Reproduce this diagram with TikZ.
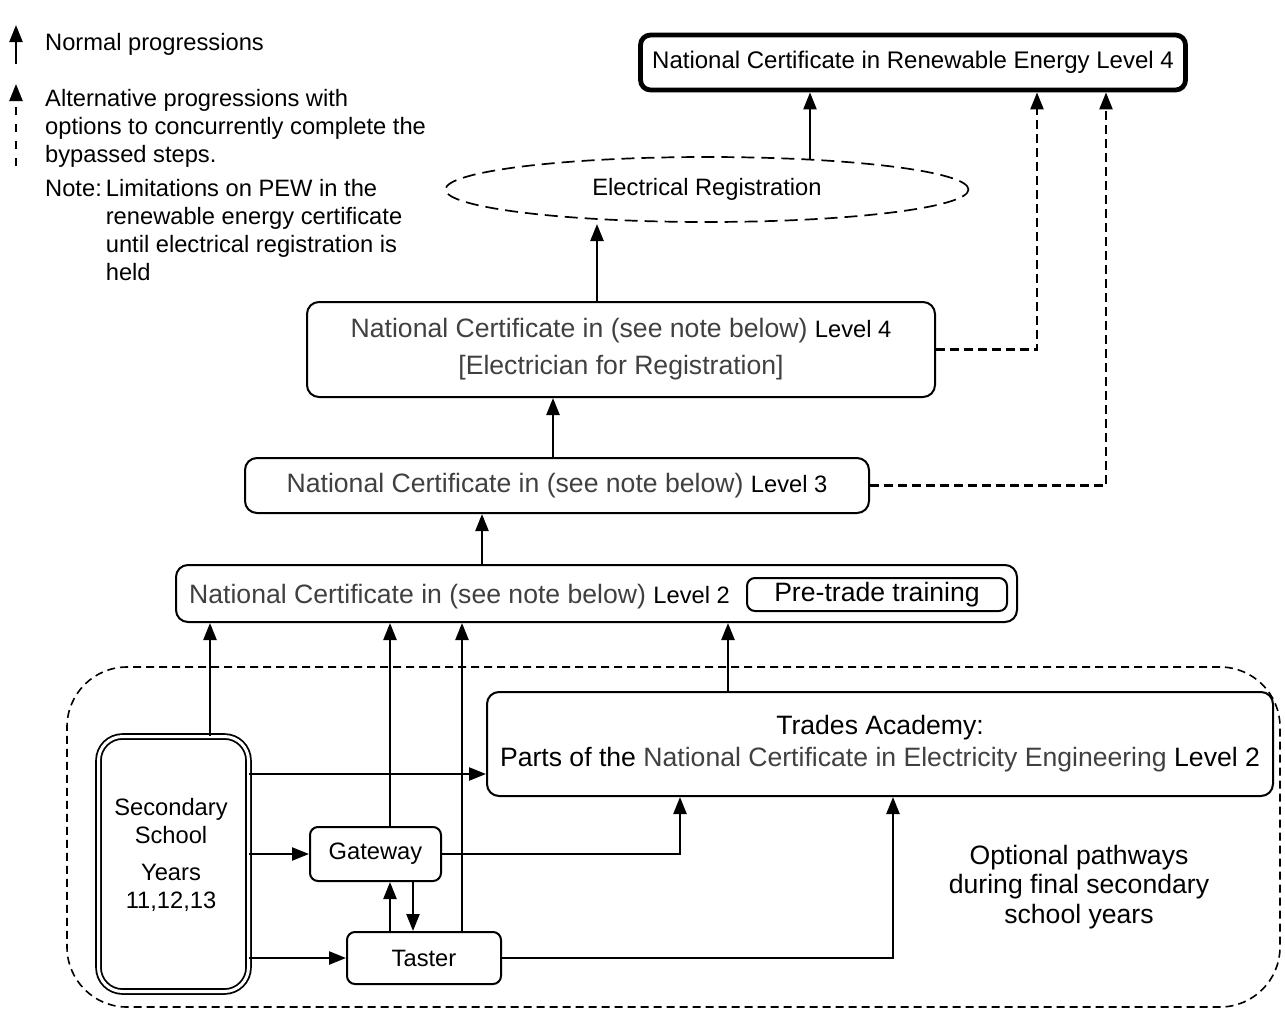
\documentclass[tikz,border=0pt]{standalone}
\usepackage{fontspec}
\setmainfont{Liberation Sans}
\usetikzlibrary{arrows.meta,shapes.geometric}
\definecolor{gtxt}{HTML}{404040}
\newcommand{\fsS}{\fontsize{23.7}{28}\selectfont}
\newcommand{\fsL}{\fontsize{26.6}{32}\selectfont}
\newcommand{\fsO}{\fontsize{26.6}{29.5}\selectfont}
\begin{document}
\begin{tikzpicture}[x=1pt,y=-1pt,
  box/.style={draw, line width=2pt, rounded corners=12pt, inner sep=0pt},
  smallbox/.style={box, rounded corners=8pt},
  arr/.style={line width=2.4pt, -{Triangle[length=17pt,width=13pt]}},
  dasharr/.style={arr, dash pattern=on 9pt off 5pt},
  region/.style={draw, line width=1.6pt, dash pattern=on 8pt off 5pt, rounded corners=60pt, inner sep=0pt},
  plain/.style={inner sep=0pt}
]
\useasboundingbox (0,0) rectangle (1285,1009);

% helper coordinates
\coordinate (c210) at (210,0);
\coordinate (c390) at (390,0);
\coordinate (c413) at (413,0);
\coordinate (c462) at (462,0);
\coordinate (c482) at (482,0);
\coordinate (c553) at (553,0);
\coordinate (c597) at (597,0);
\coordinate (c680) at (680,0);
\coordinate (c728) at (728,0);
\coordinate (c893) at (893,0);
\coordinate (c1037) at (1037,0);
\coordinate (c1106) at (1106,0);
\coordinate (r774) at (0,774);
\coordinate (e597) at (597,224);
\coordinate (e810) at (810,160);

% legend
\coordinate (lg1b) at (16,64);
\coordinate (lg1t) at (16,25);
\coordinate (lg2b) at (16,166);
\coordinate (lg2t) at (16,84);
\draw[arr] (lg1b) -- (lg1t);
\draw[arr, dash pattern=on 8pt off 9pt] (lg2b) -- (lg2t);
\node[plain, anchor=base west, font=\fsS] (lgn) at (45,50.5) {Normal progressions};
\node[plain, anchor=north west, font=\fsS] (lga) at (45,87) {\begin{tabular}{@{}l@{}}Alternative progressions with\\options to concurrently complete the\\bypassed steps.\end{tabular}};
\node[plain, anchor=north west, font=\fsS] (note) at (45,177) {\begin{tabular}{@{}l@{\hspace{4pt}}l@{}}Note: & Limitations on PEW in the\\ & renewable energy certificate\\ & until electrical registration is\\ & held\end{tabular}};

% region
\node[region, minimum width=1213, minimum height=340] (reg) at (673.5,837) {};

% boxes
\node[box, line width=4.8pt, rounded corners=10pt, minimum width=545, minimum height=55, font=\fontsize{24}{28}\selectfont] (tb) at (913,62.5) {National Certificate in Renewable Energy Level 4};
\node[draw, ellipse, line width=1.7pt, dash pattern=on 13pt off 7pt, minimum width=523, minimum height=65, inner sep=0pt, font=\fsS] (ell) at (707,189.5) {Electrical Registration};
\node[box, minimum width=628, minimum height=95, align=center, font=\fsL] (l4) at (621,349.5) {{\color{gtxt}National Certificate in (see note below)} {\fsS Level 4}\\[5pt]{\color{gtxt}[Electrician for Registration]}};
\node[box, minimum width=624, minimum height=55, font=\fsL] (l3) at (557,485.5) {{\color{gtxt}National Certificate in (see note below)} {\fsS Level 3}};
\node[box, minimum width=841, minimum height=57] (l2) at (596.5,593.5) {};
\node[plain, anchor=base west, font=\fsL, text=gtxt] (l2t) at (189,603.5) {National Certificate in (see note below) {\color{black}\fsS Level 2}};
\node[smallbox, minimum width=260, minimum height=33, font=\fsL] (pt) at (877,594.5) {Pre-trade training};
\node[box, minimum width=786, minimum height=104, align=center, font=\fsL] (tr) at (880,744) {Trades Academy:\\Parts of the {\color{gtxt}National Certificate in Electricity Engineering} Level 2};
\node[draw, double, line width=1.8pt, double distance=3pt, rounded corners=24pt, minimum width=150, minimum height=255, inner sep=0pt] (ss) at (173.5,864) {};
\node[plain, align=center, font=\fsS] (sst) at (171,855) {Secondary\\School\\[9pt]Years\\11,12,13};
\node[smallbox, minimum width=131, minimum height=54, font=\fsS] (gw) at (375.5,854) {Gateway};
\node[smallbox, minimum width=154, minimum height=52, font=\fsS] (ta) at (424,958) {Taster};
\node[plain, align=center, font=\fsO] (opt) at (1079,887) {Optional pathways\\during final secondary\\school years};

% connectors
\draw[arr] (ss.north -| c210) -- (l2.south -| c210);
\draw[arr] (ss.east |- r774) -- (tr.west |- r774);
\draw[arr] (ss.east |- gw.west) -- (gw.west);
\draw[arr] (ss.east |- ta.west) -- (ta.west);
\draw[arr] (gw.north -| c390) -- (l2.south -| c390);
\draw[arr] (ta.north -| c462) -- (l2.south -| c462);
\draw[arr] (ta.north -| c390) -- (gw.south -| c390);
\draw[arr] (gw.south -| c413) -- (ta.north -| c413);
\draw[arr] (gw.east) -| (tr.south -| c680);
\draw[arr] (ta.east) -| (tr.south -| c893);
\draw[arr] (tr.north -| c728) -- (l2.south -| c728);
\draw[arr] (l2.north -| c482) -- (l3.south -| c482);
\draw[arr] (l3.north -| c553) -- (l4.south -| c553);
\draw[arr] (l4.north -| c597) -- (e597);
\draw[arr] (e810) -- (tb.south -| e810);
\draw[dasharr] (l4.east) -| (tb.south -| c1037);
\draw[dasharr] (l3.east) -| (tb.south -| c1106);
\end{tikzpicture}
\end{document}
